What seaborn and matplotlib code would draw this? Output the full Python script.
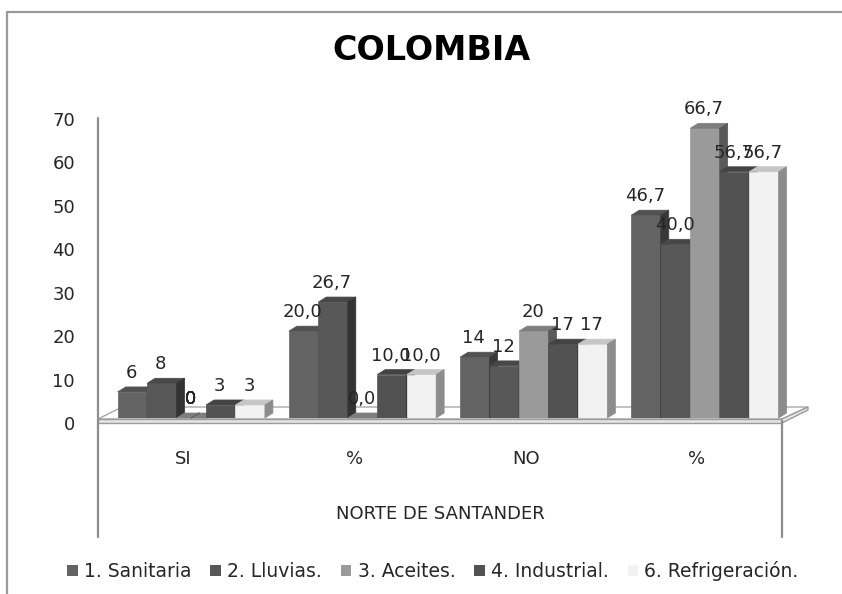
import matplotlib
matplotlib.use("Agg")
import matplotlib.pyplot as plt
import numpy as np
import pandas as pd
import seaborn as sns
from matplotlib.patches import Polygon, Rectangle
from matplotlib.lines import Line2D
from matplotlib.transforms import ScaledTranslation
from matplotlib.colors import to_rgb

# ---- data -------------------------------------------------------------
categorias = ["SI", "%", "NO", "%"]
es_porcentaje = [False, True, False, True]
series = ["1. Sanitaria", "2. Lluvias.", "3. Aceites.", "4. Industrial.", "6. Refrigeración."]
sanitaria = [6, 20.0, 14, 46.7]
lluvias = [8, 26.7, 12, 40.0]
aceites = [0, 0.0, 20, 66.7]
industrial = [3, 10.0, 17, 56.7]
refrigeracion = [3, 10.0, 17, 56.7]
colores = ["#636363", "#585858", "#9a9a9a", "#525252", "#f2f2f2"]
y_ticks = [0, 10, 20, 30, 40, 50, 60, 70]
titulo = "COLOMBIA"
eje_x = "NORTE DE SANTANDER"

valores = [sanitaria, lluvias, aceites, industrial, refrigeracion]
df = pd.DataFrame(
    [{"grupo": g, "serie": s, "valor": v}
     for s, vals in zip(series, valores) for g, v in enumerate(vals)]
)

# ---- figure -----------------------------------------------------------
sns.set_theme(style="white")
plt.rcParams["font.family"] = ["DejaVu Sans"]

W, H, DPI = 842, 594, 100
fig = plt.figure(figsize=(W / DPI, H / DPI), dpi=DPI)
fig.patch.set_facecolor("white")


def fx(p):
    return p / W


def fy(p):
    return 1 - p / H


ax = fig.add_axes([fx(98), fy(418), (782 - 98) / W, (418 - 114) / H])
ax.set_facecolor("none")

sns.barplot(
    data=df, x="grupo", y="valor", hue="serie", order=[0, 1, 2, 3],
    hue_order=series, palette=colores, width=0.86, gap=0, saturation=1,
    errorbar=None, linewidth=0, ax=ax,
)

XL = (-0.545, 3.45)
ax.set_xlim(*XL)
ax.set_ylim(0, 70)

# depth of the pseudo-3D faces, in pixels
DX_PX, DY_PX = 8, 5
px_x = ax.bbox.width / (XL[1] - XL[0])
px_y = ax.bbox.height / 70
dxd, dyd = DX_PX / px_x, DY_PX / px_y


def shade(c, f):
    r, g, b = to_rgb(c)
    return (r * f, g * f, b * f)


bars = sorted([p for p in ax.patches if isinstance(p, Rectangle)], key=lambda p: p.get_x())
step = 0.86 / len(series)
for k, p in enumerate(bars):
    x0, w, h = p.get_x(), p.get_width(), p.get_height()
    xc = x0 + w / 2
    g = int(round(xc))
    si = int(round((xc - g) / step + (len(series) - 1) / 2))
    base = colores[si]
    z = 3 + k * 0.01
    p.set_zorder(z)
    p.set_edgecolor(base)
    p.set_linewidth(0.5)
    top = Polygon([(x0, h), (x0 + w, h), (x0 + w + dxd, h + dyd), (x0 + dxd, h + dyd)],
                  closed=True, facecolor=shade(base, 0.82), edgecolor=shade(base, 0.82),
                  lw=0.5, zorder=z, clip_on=False)
    side = Polygon([(x0 + w, 0), (x0 + w, h), (x0 + w + dxd, h + dyd), (x0 + w + dxd, dyd)],
                   closed=True, facecolor=shade(base, 0.58), edgecolor=shade(base, 0.58),
                   lw=0.5, zorder=z, clip_on=False)
    ax.add_patch(top)
    ax.add_patch(side)

    v = valores[si][g]
    txt = f"{v:.1f}".replace(".", ",") if es_porcentaje[g] else f"{v:.0f}"
    ax.annotate(txt, (xc, v), xytext=(-0.7, 10), textcoords="offset points",
                ha="center", va="baseline", fontsize=13, color="#262626",
                zorder=10, annotation_clip=False)

# floor of the chart
floor_kw = dict(transform=fig.transFigure, clip_on=False)
ax.add_patch(Polygon([(fx(98), fy(419)), (fx(782), fy(419)), (fx(808), fy(407)), (fx(122), fy(407))],
                     facecolor="white", edgecolor="#a8a8a8", lw=1.0, zorder=1, **floor_kw))
ax.add_patch(Polygon([(fx(98), fy(419)), (fx(782), fy(419)), (fx(782), fy(423)), (fx(98), fy(423))],
                     facecolor="#e4e4e4", edgecolor="#9c9c9c", lw=1.0, zorder=1.1, **floor_kw))
ax.add_patch(Polygon([(fx(782), fy(419)), (fx(808), fy(407)), (fx(808), fy(410)), (fx(782), fy(423))],
                     facecolor="#e4e4e4", edgecolor="#9c9c9c", lw=1.0, zorder=1.1, **floor_kw))

# axes, ticks and labels
for s in ax.spines.values():
    s.set_visible(False)
ax.set_xticks(range(len(categorias)))
ax.set_xticklabels(categorias)
ax.set_yticks(y_ticks)
ax.set_yticklabels([str(t) for t in y_ticks])
ax.tick_params(axis="x", length=0, pad=23, labelsize=13, labelcolor="#262626")
ax.tick_params(axis="y", length=0, pad=16.5, labelsize=13, labelcolor="#262626")
for lab in ax.get_xticklabels():
    lab.set_transform(lab.get_transform() + ScaledTranslation(-8 / DPI, 0, fig.dpi_scale_trans))
for lab in ax.get_yticklabels():
    lab.set_transform(lab.get_transform() + ScaledTranslation(0, -5 / DPI, fig.dpi_scale_trans))
ax.set_xlabel(eje_x, fontsize=13, color="#262626")
ax.xaxis.set_label_coords(0.5, -0.285)
ax.set_ylabel("")

fig.text(fx(431), fy(50), titulo, ha="center", va="center",
         fontsize=24, fontweight="bold", color="black")

sns.move_legend(
    ax, "center", bbox_to_anchor=(fx(433), fy(571)), bbox_transform=fig.transFigure,
    ncol=5, frameon=False, title=None, fontsize=13.5, handlelength=0.55,
    handleheight=0.55, handletextpad=0.35, columnspacing=1.0,
)
for t in ax.get_legend().get_texts():
    t.set_color("#262626")

# frame lines around plot and category table
line_kw = dict(transform=fig.transFigure, color="#8e8e8e", lw=1.6)
fig.add_artist(Line2D([fx(98), fx(98)], [fy(118), fy(537)], **line_kw))
fig.add_artist(Line2D([fx(782), fx(782)], [fy(421), fy(537)], **line_kw))
outer_kw = dict(transform=fig.transFigure, color="#9a9a9a", lw=1.6)
fig.add_artist(Line2D([fx(7), fx(7)], [fy(12), fy(594)], **outer_kw))
fig.add_artist(Line2D([fx(7), fx(842)], [fy(12), fy(12)], **outer_kw))

fig.savefig("out.png", dpi=DPI)
